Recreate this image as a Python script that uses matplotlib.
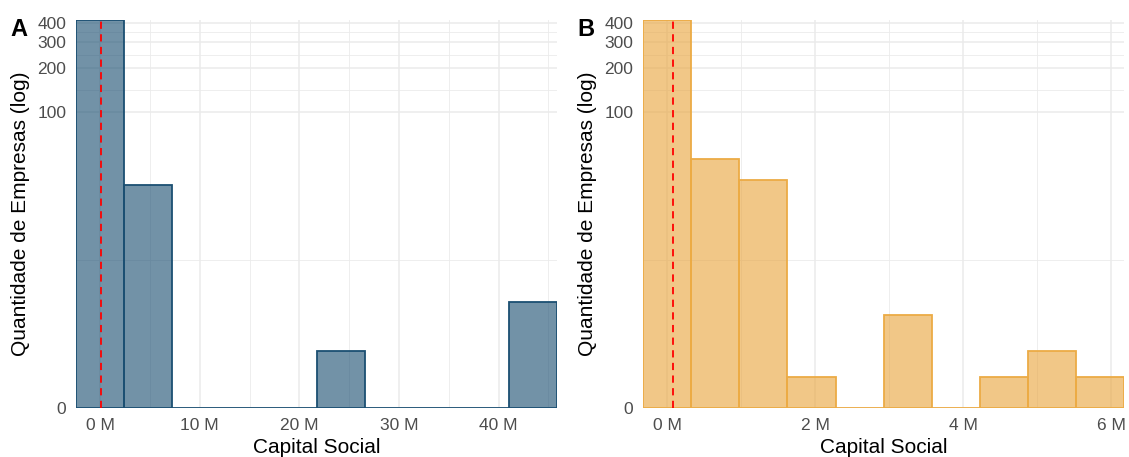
import numpy as np
import matplotlib.pyplot as plt

plt.rcParams['font.family'] = ['Liberation Sans', 'DejaVu Sans']

# contagens por faixa de capital social (milhoes)
binwidth_a = 4.83
counts_a = [420, 32, 0, 0, 0, 2, 0, 0, 0, 5]
median_a = 0.07

binwidth_b = 0.65
counts_b = [420, 48, 35, 1, 0, 4, 0, 1, 2, 1]
median_b = 0.08

xmajor_a = [0, 10, 20, 30, 40]
xminor_a = [5, 15, 25, 35, 45]
xmajor_b = [0, 2, 4, 6]
xminor_b = [1, 3, 5]
yticks = [0, 100, 200, 300, 400]


def fwd(y):
    return np.arcsinh(np.asarray(y, dtype=float) / 2) / np.log(10)


def inv(t):
    return 2 * np.sinh(np.asarray(t, dtype=float) * np.log(10))


fig = plt.figure(figsize=(11.29, 4.57), dpi=100)
W, H = 1129, 457


def panel(left, counts, bw, med, xmaj, xmin, face, edge, letter):
    ax = fig.add_axes([left / W, (H - 408) / H, 481.3 / W, 388 / H])
    ax.set_yscale('function', functions=(fwd, inv))
    centers = np.arange(len(counts)) * bw
    ymax = max(counts)
    ax.set_ylim(0, ymax)
    ax.set_xlim(centers[0] - bw / 2, centers[-1] + bw / 2)

    # grid
    t = fwd(yticks)
    ymin_grid = inv((t[:-1] + t[1:]) / 2)
    for y in ymin_grid:
        ax.axhline(y, color='#ebebeb', lw=0.6, zorder=0)
    for y in yticks:
        ax.axhline(y, color='#ebebeb', lw=1.1, zorder=0)
    for x in xmin:
        ax.axvline(x, color='#ebebeb', lw=0.6, zorder=0)
    for x in xmaj:
        ax.axvline(x, color='#ebebeb', lw=1.1, zorder=0)

    ax.bar(centers, counts, width=bw, color=face, alpha=0.62, zorder=2)
    ax.bar(centers, counts, width=bw, facecolor='none', edgecolor=edge,
           linewidth=1.3, zorder=3)
    ax.axvline(med, color='red', lw=1.3, dashes=(4, 3), zorder=4)

    ax.set_yticks(yticks)
    ax.set_yticks([], minor=True)
    ax.set_xticks(xmaj)
    ax.set_xticklabels([f'{v} M' for v in xmaj])
    ax.tick_params(length=0, labelsize=12.5, labelcolor='#4d4d4d', pad=7)
    ax.tick_params(axis='x', pad=7)
    for s in ax.spines.values():
        s.set_visible(False)
    ax.set_xlabel('Capital Social', fontsize=15, labelpad=4)
    ax.set_ylabel('Quantidade de Empresas (log)', fontsize=15, labelpad=5)
    fig.text((left - 66) / W, (H - 29) / H, letter, fontsize=17,
             fontweight='bold', va='center', ha='left')
    return ax


panel(76, counts_a, binwidth_a, median_a, xmajor_a, xminor_a,
      '#1b4f72', '#1b4f72', 'A')
panel(643, counts_b, binwidth_b, median_b, xmajor_b, xminor_b,
      '#e9a53e', '#ecab45', 'B')

fig.savefig('out.png', dpi=100)
